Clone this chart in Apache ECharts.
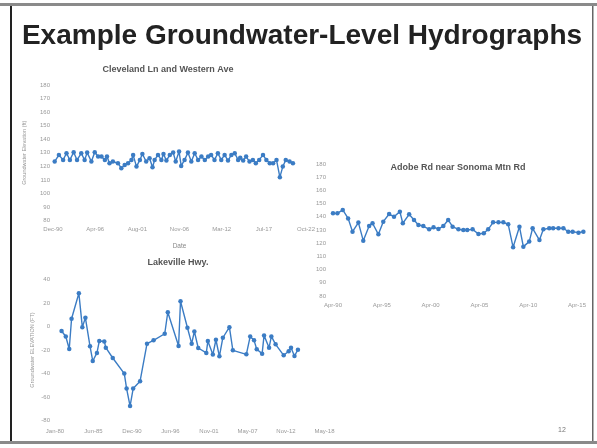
<!DOCTYPE html>
<html>
<head>
<meta charset="utf-8">
<script src="https://cdn.jsdelivr.net/npm/echarts@6/dist/echarts.min.js"></script>
<style>
  html, body { margin: 0; padding: 0; background: #fff; }
  #main { width: 597px; height: 448px; }
</style>
</head>
<body>
<div id="main"></div>
<script>
// x positions are in tick-label units (0 = first date label)
var clevelandLabels = ['Dec-90', 'Apr-96', 'Aug-01', 'Nov-06', 'Mar-12', 'Jul-17', 'Oct-22'];
var clevelandX = [0.04, 0.14, 0.24, 0.32, 0.40, 0.49, 0.57, 0.67, 0.75, 0.81, 0.91, 0.99, 1.07, 1.15, 1.23, 1.28, 1.34, 1.42, 1.54, 1.62,
    1.70, 1.78, 1.86, 1.90, 1.98, 2.06, 2.12, 2.21, 2.29, 2.36, 2.41, 2.49, 2.57, 2.62, 2.69, 2.77, 2.85, 2.91, 2.99, 3.04,
    3.12, 3.20, 3.28, 3.36, 3.44, 3.52, 3.60, 3.68, 3.75, 3.83, 3.91, 3.99, 4.07, 4.15, 4.23, 4.31, 4.39, 4.44, 4.51, 4.58,
    4.66, 4.74, 4.81, 4.89, 4.98, 5.06, 5.14, 5.22, 5.30, 5.38, 5.45, 5.52, 5.61, 5.69];
var clevelandLevel = [123.5, 128.4, 124.7, 129.6, 124.7, 130.4, 124.7, 129.6, 124.7, 130.1, 123.5, 130.4, 127.2, 127.2, 124.7, 127.2, 122.3, 123.5, 122.3, 118.6,
    121.0, 122.3, 124.7, 128.4, 119.8, 124.7, 129.1, 123.5, 126.0, 119.3, 124.7, 128.4, 124.7, 129.1, 124.2, 128.4, 130.1, 123.5, 130.9, 120.3,
    124.7, 130.1, 123.5, 129.6, 124.7, 127.2, 124.7, 127.2, 128.4, 124.7, 129.6, 124.7, 128.4, 124.2, 128.4, 129.6, 124.7, 126.4, 124.2, 127.2,
    123.5, 124.7, 122.3, 124.7, 128.4, 124.7, 122.3, 122.3, 124.7, 112.0, 119.8, 124.7, 123.5, 122.3];

var adobeLabels = ['Apr-90', 'Apr-95', 'Apr-00', 'Apr-05', 'Apr-10', 'Apr-15'];
var adobeX = [0.00, 0.09, 0.20, 0.31, 0.40, 0.52, 0.62, 0.74, 0.81, 0.93, 1.03, 1.15, 1.25, 1.37, 1.43, 1.56, 1.66, 1.75, 1.85, 1.97,
    2.06, 2.16, 2.26, 2.36, 2.45, 2.57, 2.67, 2.75, 2.86, 2.98, 3.09, 3.18, 3.28, 3.39, 3.49, 3.59, 3.69, 3.82, 3.90, 4.02,
    4.09, 4.23, 4.31, 4.43, 4.51, 4.62, 4.72, 4.82, 4.91, 5.03, 5.13];
var adobeLevel = [142.6, 142.6, 145.2, 138.8, 128.7, 135.6, 121.9, 133.0, 135.1, 126.7, 136.3, 142.1, 140.1, 143.9, 135.1, 141.9, 137.6, 133.8, 133.0, 130.5,
    132.0, 130.8, 133.0, 137.6, 132.5, 130.5, 130.0, 130.0, 130.5, 127.0, 127.5, 130.5, 135.8, 135.8, 135.8, 134.3, 116.9, 132.5, 117.4, 121.2,
    131.3, 122.4, 130.5, 131.3, 131.3, 131.3, 131.3, 128.7, 128.7, 128.0, 128.7];

var lakevilleLabels = ['Jan-80', 'Jun-85', 'Dec-90', 'Jun-96', 'Nov-01', 'May-07', 'Nov-12', 'May-18'];
var lakevilleX = [0.17, 0.28, 0.37, 0.43, 0.62, 0.71, 0.79, 0.91, 0.98, 1.09, 1.15, 1.28, 1.32, 1.50, 1.80, 1.86, 1.95, 2.03, 2.21, 2.39,
    2.56, 2.85, 2.93, 3.21, 3.26, 3.44, 3.55, 3.62, 3.72, 3.93, 3.97, 4.10, 4.18, 4.27, 4.36, 4.53, 4.62, 4.97, 5.07, 5.17,
    5.24, 5.38, 5.43, 5.56, 5.62, 5.73, 5.94, 6.07, 6.13, 6.22, 6.31];
var lakevilleLevel = [-3.9, -8.5, -19.2, 6.5, 28.2, -0.6, 7.3, -16.9, -29.3, -22.5, -12.4, -12.7, -18.0, -26.8, -40.0, -52.7, -67.6, -52.7, -46.5, -14.6,
    -11.8, -6.2, 12.1, -16.6, 21.4, -1.1, -14.6, -4.2, -18.3, -22.5, -12.4, -23.9, -11.3, -25.4, -9.6, -0.6, -20.3, -23.7, -8.5, -11.8,
    -19.4, -23.1, -7.6, -18.0, -8.5, -15.2, -24.5, -21.1, -18.0, -25.1, -19.7];

function pairs(xs, ys) {
    return xs.map(function (x, i) { return [x, ys[i]]; });
}

var blue = '#3b7cc4';
var tickFont = { fontFamily: 'Liberation Sans', fontSize: 6, color: '#999' };

function xAxisFor(gridIndex, labels, max, margin, name) {
    return {
        type: 'value', gridIndex: gridIndex, min: 0, max: max, interval: 1,
        axisLine: { show: false }, axisTick: { show: false }, splitLine: { show: false },
        axisLabel: Object.assign({ margin: margin, showMaxLabel: true,
            formatter: function (v) {
                if (Math.abs(v - Math.round(v)) > 0.001) return '';
                return labels[Math.round(v)] || '';
            } }, tickFont),
        name: name || '', nameLocation: 'middle', nameGap: 22,
        nameTextStyle: { fontFamily: 'Liberation Sans', fontSize: 6.5, color: '#888' }
    };
}
function yAxisFor(gridIndex, min, max, interval, margin, name, gap) {
    return {
        type: 'value', gridIndex: gridIndex, min: min, max: max, interval: interval,
        axisLine: { show: false }, axisTick: { show: false }, splitLine: { show: false },
        axisLabel: Object.assign({ margin: margin }, tickFont),
        name: name || '', nameLocation: 'middle', nameGap: gap || 20, nameRotate: 90,
        nameTextStyle: { fontFamily: 'Liberation Sans', fontSize: 5.5, color: '#999' }
    };
}
function lineFor(idx, data) {
    return {
        type: 'line', xAxisIndex: idx, yAxisIndex: idx, data: data,
        symbol: 'circle', symbolSize: 4.5, showAllSymbol: true,
        lineStyle: { color: blue, width: 1.4 }, itemStyle: { color: blue },
        animation: false
    };
}

var myChart = echarts.init(document.getElementById('main'));

var option = {
    backgroundColor: '#fff',
    grid: [
        { left: 53, top: 85, width: 253, height: 135.5 },
        { left: 333, top: 164, width: 253.8, height: 132 },
        { left: 55, top: 279.3, width: 269.5, height: 141.4 }
    ],
    xAxis: [
        xAxisFor(0, clevelandLabels, 6, 6, 'Date'),
        xAxisFor(1, adobeLabels, 5.2, 6),
        xAxisFor(2, lakevilleLabels, 7, 8)
    ],
    yAxis: [
        yAxisFor(0, 80, 180, 10, 3, 'Groundwater Elevation (ft)', 26),
        yAxisFor(1, 80, 180, 10, 7),
        yAxisFor(2, -80, 40, 20, 5, 'Groundwater ELEVATION (FT)', 20)
    ],
    series: [
        lineFor(0, pairs(clevelandX, clevelandLevel)),
        lineFor(1, pairs(adobeX, adobeLevel)),
        lineFor(2, pairs(lakevilleX, lakevilleLevel))
    ],
    graphic: [
        // slide frame
        { type: 'rect', shape: { x: 0, y: 3, width: 597, height: 3 }, style: { fill: '#8a8a8a' } },
        { type: 'rect', shape: { x: 10, y: 6, width: 2, height: 436 }, style: { fill: '#222' } },
        { type: 'rect', shape: { x: 592, y: 6, width: 1.5, height: 436 }, style: { fill: '#666' } },
        { type: 'rect', shape: { x: 0, y: 441, width: 597, height: 3 }, style: { fill: '#8a8a8a' } },
        // slide title
        { type: 'text', x: 302, y: 36, style: { text: 'Example Groundwater-Level Hydrographs',
            font: 'bold 28px "Liberation Sans"', fill: '#222', align: 'center', verticalAlign: 'middle' } },
        // chart titles
        { type: 'text', x: 168, y: 70, style: { text: 'Cleveland Ln and Western Ave',
            font: 'bold 9px "Liberation Sans"', fill: '#555', align: 'center', verticalAlign: 'middle' } },
        { type: 'text', x: 458, y: 168, style: { text: 'Adobe Rd near Sonoma Mtn Rd',
            font: 'bold 9px "Liberation Sans"', fill: '#555', align: 'center', verticalAlign: 'middle' } },
        { type: 'text', x: 178, y: 263, style: { text: 'Lakeville Hwy.',
            font: 'bold 9px "Liberation Sans"', fill: '#555', align: 'center', verticalAlign: 'middle' } },
        // page number
        { type: 'text', x: 562, y: 430, style: { text: '12',
            font: '7px "Liberation Sans"', fill: '#777', align: 'center', verticalAlign: 'middle' } }
    ]
};

myChart.setOption(option);
</script>
</body>
</html>
